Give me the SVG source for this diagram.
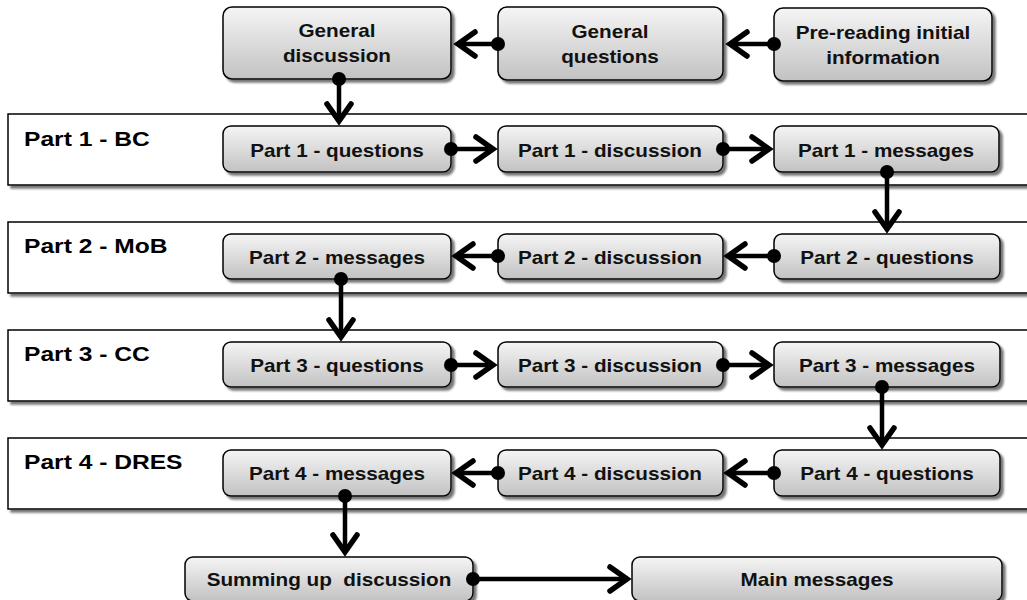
<svg xmlns="http://www.w3.org/2000/svg" width="1027" height="600" viewBox="0 0 1027 600">
  <defs>
    <linearGradient id="nodeFill" x1="0" y1="0" x2="0" y2="1">
      <stop offset="0" stop-color="#f5f5f5"/>
      <stop offset="1" stop-color="#c2c2c2"/>
    </linearGradient>
    <filter id="shadow" x="-5%" y="-20%" width="115%" height="150%">
      <feDropShadow dx="3" dy="3" stdDeviation="1" flood-color="#555" flood-opacity="0.8"/>
    </filter>
    <marker id="dot" markerUnits="userSpaceOnUse" viewBox="-10 -10 20 20" markerWidth="20" markerHeight="20" refX="0" refY="0" overflow="visible">
      <circle r="7" fill="#000"/>
    </marker>
    <marker id="arrow" markerUnits="userSpaceOnUse" viewBox="-30 -15 40 30" markerWidth="40" markerHeight="30" refX="0" refY="0" orient="auto" overflow="visible">
      <path d="M-17,-12 L0,0 L-17,12" fill="none" stroke="#000" stroke-width="5.5" stroke-linecap="round"/>
    </marker>
    <style>
      .lane { fill: #fff; stroke: #000; stroke-width: 1.5; filter: url(#shadow); }
      .node { fill: url(#nodeFill); stroke: #000; stroke-width: 1.5; filter: url(#shadow); }
      .lbl { font-family: "Liberation Sans", Arial, sans-serif; font-weight: bold; font-size: 18px; fill: #111; text-anchor: middle; }
      .lane-lbl { font-family: "Liberation Sans", Arial, sans-serif; font-weight: bold; font-size: 20.5px; fill: #000; }
      .conn { fill: none; stroke: #000; stroke-width: 4.5; marker-start: url(#dot); marker-end: url(#arrow); }
    </style>
  </defs>

  <!-- swimlanes -->
  <g id="lanes">
    <g id="lane-1">
      <rect class="lane" x="8" y="114" width="1040" height="71"/>
      <text class="lane-lbl" transform="translate(24 146) scale(1.2 1)">Part 1 - BC</text>
    </g>
    <g id="lane-2">
      <rect class="lane" x="8" y="222" width="1040" height="71"/>
      <text class="lane-lbl" transform="translate(24 253) scale(1.2 1)">Part 2 - MoB</text>
    </g>
    <g id="lane-3">
      <rect class="lane" x="8" y="330" width="1040" height="71"/>
      <text class="lane-lbl" transform="translate(24 361) scale(1.2 1)">Part 3 - CC</text>
    </g>
    <g id="lane-4">
      <rect class="lane" x="8" y="438" width="1040" height="71"/>
      <text class="lane-lbl" transform="translate(24 469) scale(1.2 1)">Part 4 - DRES</text>
    </g>
  </g>

  <!-- opening row -->
  <g id="general-discussion">
    <rect class="node" x="223" y="7" width="228" height="72" rx="9"/>
    <text class="lbl" transform="translate(337 37) scale(1.15 1)">General</text>
    <text class="lbl" transform="translate(337 62) scale(1.15 1)">discussion</text>
  </g>
  <g id="general-questions">
    <rect class="node" x="498" y="7" width="225" height="73" rx="9"/>
    <text class="lbl" transform="translate(610 38) scale(1.15 1)">General</text>
    <text class="lbl" transform="translate(610 63) scale(1.15 1)">questions</text>
  </g>
  <g id="pre-reading">
    <rect class="node" x="774" y="8" width="218" height="73" rx="9"/>
    <text class="lbl" transform="translate(883 39) scale(1.15 1)">Pre-reading initial</text>
    <text class="lbl" transform="translate(883 64) scale(1.15 1)">information</text>
  </g>

  <!-- part 1 -->
  <g id="p1-questions">
    <rect class="node" x="223" y="126" width="228" height="46" rx="8"/>
    <text class="lbl" transform="translate(337 157) scale(1.15 1)">Part 1 - questions</text>
  </g>
  <g id="p1-discussion">
    <rect class="node" x="498" y="126" width="225" height="46" rx="8"/>
    <text class="lbl" transform="translate(610 157) scale(1.15 1)">Part 1 - discussion</text>
  </g>
  <g id="p1-messages">
    <rect class="node" x="774" y="126" width="225" height="46" rx="8"/>
    <text class="lbl" transform="translate(886 157) scale(1.15 1)">Part 1 - messages</text>
  </g>

  <!-- part 2 -->
  <g id="p2-messages">
    <rect class="node" x="223" y="234" width="228" height="45" rx="8"/>
    <text class="lbl" transform="translate(337 264) scale(1.15 1)">Part 2 - messages</text>
  </g>
  <g id="p2-discussion">
    <rect class="node" x="498" y="234" width="225" height="45" rx="8"/>
    <text class="lbl" transform="translate(610 264) scale(1.15 1)">Part 2 - discussion</text>
  </g>
  <g id="p2-questions">
    <rect class="node" x="774" y="234" width="226" height="45" rx="8"/>
    <text class="lbl" transform="translate(887 264) scale(1.15 1)">Part 2 - questions</text>
  </g>

  <!-- part 3 -->
  <g id="p3-questions">
    <rect class="node" x="223" y="342" width="228" height="45" rx="8"/>
    <text class="lbl" transform="translate(337 372) scale(1.15 1)">Part 3 - questions</text>
  </g>
  <g id="p3-discussion">
    <rect class="node" x="498" y="342" width="225" height="45" rx="8"/>
    <text class="lbl" transform="translate(610 372) scale(1.15 1)">Part 3 - discussion</text>
  </g>
  <g id="p3-messages">
    <rect class="node" x="774" y="342" width="226" height="45" rx="8"/>
    <text class="lbl" transform="translate(887 372) scale(1.15 1)">Part 3 - messages</text>
  </g>

  <!-- part 4 -->
  <g id="p4-messages">
    <rect class="node" x="223" y="450" width="228" height="46" rx="8"/>
    <text class="lbl" transform="translate(337 480) scale(1.15 1)">Part 4 - messages</text>
  </g>
  <g id="p4-discussion">
    <rect class="node" x="498" y="450" width="225" height="46" rx="8"/>
    <text class="lbl" transform="translate(610 480) scale(1.15 1)">Part 4 - discussion</text>
  </g>
  <g id="p4-questions">
    <rect class="node" x="774" y="450" width="226" height="46" rx="8"/>
    <text class="lbl" transform="translate(887 480) scale(1.15 1)">Part 4 - questions</text>
  </g>

  <!-- closing row -->
  <g id="summing-up">
    <rect class="node" x="185" y="557" width="288" height="44" rx="8"/>
    <text class="lbl" transform="translate(329 586) scale(1.15 1)" xml:space="preserve">Summing up  discussion</text>
  </g>
  <g id="main-messages">
    <rect class="node" x="632" y="557" width="370" height="44" rx="8"/>
    <text class="lbl" transform="translate(817 586) scale(1.15 1)">Main messages</text>
  </g>

  <!-- connectors: dot at the source, open arrowhead at the target -->
  <g id="connectors">
    <path class="conn" d="M498,44 H458"/>
    <path class="conn" d="M774,44 H730"/>
    <path class="conn" d="M339,79 V121"/>
    <path class="conn" d="M451,149 H493"/>
    <path class="conn" d="M723,149 H769"/>
    <path class="conn" d="M887,172 V229"/>
    <path class="conn" d="M774,256 H728"/>
    <path class="conn" d="M498,256 H456"/>
    <path class="conn" d="M341,279 V337"/>
    <path class="conn" d="M451,365 H493"/>
    <path class="conn" d="M723,365 H769"/>
    <path class="conn" d="M882,387 V445"/>
    <path class="conn" d="M774,473 H728"/>
    <path class="conn" d="M498,473 H456"/>
    <path class="conn" d="M345,496 V552"/>
    <path class="conn" d="M473,579 H627"/>
  </g>
</svg>
